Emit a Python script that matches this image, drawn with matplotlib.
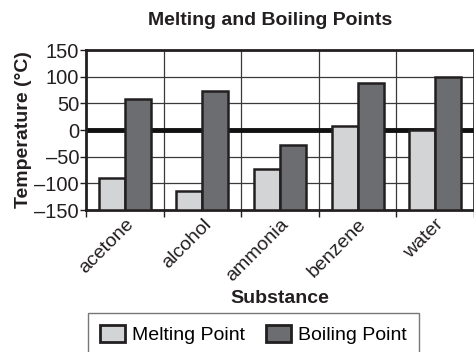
import numpy as np
import matplotlib.pyplot as plt

substances = ["acetone", "alcohol", "ammonia", "benzene", "water"]
melting = [-90, -114, -73, 8, 0]
boiling = [58, 73, -29, 88, 100]

plt.rcParams['font.family'] = ['Liberation Sans', 'DejaVu Sans']

light = "#d3d4d6"
dark = "#6c6d70"
edge = "#231f20"
ymin, ymax = -150, 150

fig = plt.figure(figsize=(4.74, 3.52), dpi=100)
ax = fig.add_axes([86 / 474, 1 - 210 / 352, 388 / 474, 160 / 352])

x = np.arange(len(substances))
w = 0.335
# bars rise from the bottom of the axis, as in the original
ax.bar(x - w / 2, np.array(melting) - ymin, w, bottom=ymin, color=light,
       edgecolor=edge, linewidth=1.8, label="Melting Point", zorder=3)
ax.bar(x + w / 2, np.array(boiling) - ymin, w, bottom=ymin, color=dark,
       edgecolor=edge, linewidth=1.8, label="Boiling Point", zorder=3)

ax.set_xlim(-0.5, len(substances) - 0.5)
ax.set_ylim(ymin, ymax)
yt = np.arange(ymin, ymax + 1, 50)
ax.set_yticks(yt)
ax.set_yticklabels([str(v).replace("-", "\u2013") for v in yt])

for y in yt[1:-1]:
    if y != 0:
        ax.axhline(y, color="#3a3a3a", linewidth=0.9, zorder=1)
for b in np.arange(0.5, len(substances) - 0.5, 1):
    ax.axvline(b, color="#3a3a3a", linewidth=0.9, zorder=1)
ax.axhline(0, color="#111111", linewidth=3.5, zorder=2)

ax.set_xticks(np.arange(-0.5, len(substances), 1))
ax.set_xticklabels([])
ax.set_xticks(x, minor=True)
ax.set_xticklabels(substances, minor=True, rotation=45, ha="right",
                   rotation_mode="anchor", fontsize=14, color=edge)
ax.tick_params(axis="x", which="minor", length=0, pad=4)
ax.tick_params(axis="x", which="major", length=5, width=1, color=edge)
ax.tick_params(axis="y", length=4, width=1, labelsize=14.5, pad=1,
               color=edge, labelcolor=edge)

for s in ["left", "bottom", "top"]:
    ax.spines[s].set_linewidth(2)
    ax.spines[s].set_color(edge)
ax.spines["right"].set_linewidth(1.2)
ax.spines["right"].set_color(edge)

ax.set_title("Melting and Boiling Points", fontsize=14, fontweight="bold",
             color=edge, pad=18, x=0.474)
ax.set_ylabel("Temperature (\u00b0C)", fontsize=14, fontweight="bold",
              color=edge, labelpad=2)
ax.set_xlabel("Substance", fontsize=14, fontweight="bold",
              color=edge, labelpad=4)

leg = fig.legend(loc="upper left", bbox_to_anchor=(88 / 474, 1 - 313 / 352),
                 ncol=2, fontsize=14, frameon=True, fancybox=False,
                 handlelength=1.3, handleheight=0.95, columnspacing=1.05,
                 borderpad=0.62, handletextpad=0.36, borderaxespad=0)
leg.get_frame().set_edgecolor("#555555")
leg.get_frame().set_linewidth(1)
for p in leg.get_patches():
    p.set_linewidth(2)

fig.savefig("out.png", dpi=100)
